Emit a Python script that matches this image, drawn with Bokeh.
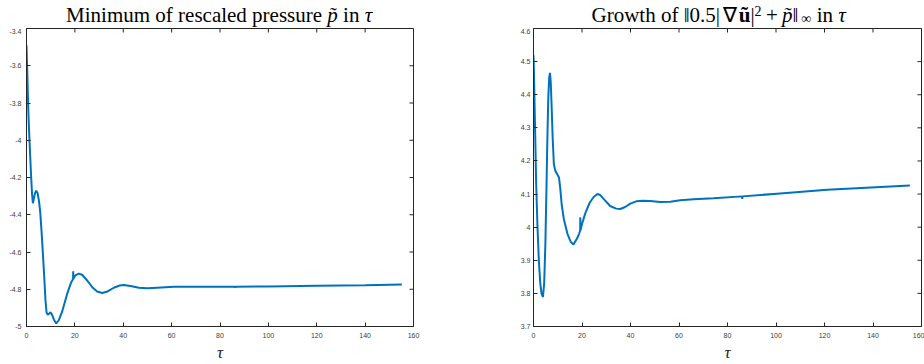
import math
from bokeh.plotting import figure
from bokeh.models import FixedTicker, Range1d
from bokeh.layouts import row, column
from bokeh.embed import file_html
from bokeh.resources import INLINE
from bokeh.core.properties import value

# ---------------- data ----------------
tau_p = [0.0, 0.3, 0.7, 1.0, 1.4, 1.93, 2.3, 2.65, 3.1, 3.5, 4.0, 4.6, 5.2, 5.7,
         6.2, 6.6, 7.0, 7.4, 7.85, 8.3, 8.8, 9.4, 9.9, 10.5, 11.4, 12.3, 13.4,
         14.7, 16.8, 18.5, 19.25, 19.3, 19.35, 20.2, 21.6, 23.0, 25.1, 27.2,
         29.2, 31.3, 33.5, 36.1, 38.5, 40.2, 43.0, 46.5, 49.9, 54.0, 60.9, 72.0,
         86.2, 86.3, 86.4, 100.0, 120.0, 140.0, 155.2]
p_min = [-3.49, -3.62, -3.82, -3.93, -4.05, -4.20, -4.29, -4.338, -4.31, -4.285,
         -4.271, -4.285, -4.33, -4.39, -4.485, -4.57, -4.66, -4.75, -4.86, -4.925,
         -4.937, -4.93, -4.924, -4.935, -4.965, -4.984, -4.965, -4.922, -4.825,
         -4.762, -4.745, -4.703, -4.745, -4.725, -4.716, -4.722, -4.753, -4.789,
         -4.812, -4.82, -4.812, -4.792, -4.78, -4.777, -4.783, -4.792, -4.795,
         -4.792, -4.787, -4.786, -4.786, -4.792, -4.786, -4.785, -4.781, -4.778,
         -4.775]

tau_g = [0.0, 0.28, 0.69, 1.1, 1.65, 2.2, 2.75, 3.3, 3.9, 4.4, 4.9, 5.3, 5.7,
         6.1, 6.45, 6.8, 7.1, 7.5, 7.9, 8.4, 9.0, 9.8, 10.5, 11.0, 11.6, 12.5,
         14.0, 15.4, 16.5, 17.9, 18.8, 19.25, 19.3, 19.35, 20.1, 21.3, 23.1,
         24.8, 26.4, 27.5, 29.2, 31.6, 34.1, 35.8, 37.8, 39.9, 42.4, 45.1, 48.1,
         52.3, 56.4, 60.5, 66.0, 74.3, 86.0, 86.1, 86.2, 100.4, 121.1, 155.2]
growth = [4.519, 4.434, 4.283, 4.131, 4.0, 3.90, 3.834, 3.799, 3.789, 3.83,
          3.95, 4.10, 4.26, 4.39, 4.45, 4.466, 4.44, 4.36, 4.27, 4.19, 4.17,
          4.16, 4.15, 4.12, 4.07, 4.025, 3.98, 3.955, 3.948, 3.965, 3.98, 3.99,
          4.03, 3.99, 4.012, 4.041, 4.073, 4.091, 4.10, 4.097, 4.083, 4.064,
          4.056, 4.055, 4.061, 4.071, 4.078, 4.08, 4.079, 4.076, 4.077, 4.081,
          4.084, 4.087, 4.093, 4.085, 4.093, 4.101, 4.113, 4.126]

x_ticks = [0, 20, 40, 60, 80, 100, 120, 140, 160]
x_tick_labels = ["0", "20", "40", "60", "80", "100", "120", "140", "160"]
p_ticks = [-5.0, -4.8, -4.6, -4.4, -4.2, -4.0, -3.8, -3.6, -3.4]
p_tick_labels = ["-5", "-4.8", "-4.6", "-4.4", "-4.2", "-4", "-3.8", "-3.6", "-3.4"]
g_ticks = [3.7, 3.8, 3.9, 4.0, 4.1, 4.2, 4.3, 4.4, 4.5, 4.6]
g_tick_labels = ["3.7", "3.8", "3.9", "4", "4.1", "4.2", "4.3", "4.4", "4.5", "4.6"]

# title pieces: text, style, size(px), wanted baseline (px from top), advance (em of FONT)
title_left = [("Minimum of rescaled pressure", "normal", 21, 20, 12.44),
              ("p\u0303", "italic", 21, 20, 0.75),
              ("in", "normal", 21, 20, 1.03),
              ("\u03c4", "italic", 21, 20, 0.44)]
title_right = [("Growth of", "normal", 21, 20, 4.39),
               ("\u20160.5|", "normal", 21, 20, 1.87),
               ("\u2207", "normal", 21, 20, 0.75),
               ("u\u0303", "bold", 21, 20, 0.556),
               ("|", "normal", 21, 20, 0.2),
               ("2", "normal", 14, 14, 0.54),
               ("+", "normal", 21, 20, 0.764),
               ("p\u0303", "italic", 21, 20, 0.5),
               ("\u2016", "normal", 21, 20, 0.42),
               ("\u221e", "normal", 14, 22, 0.73),
               ("in", "normal", 21, 20, 1.03),
               ("\u03c4", "italic", 21, 20, 0.44)]

LINE = "#0072BD"
AX = "#262626"
FONT = 21
TITLE_H = 28
TOTAL_H = 364
TICK = 4


def style_axis(ax, standoff):
    ax.axis_line_color = AX
    ax.axis_line_width = 1
    ax.major_tick_in = TICK
    ax.major_tick_out = 0
    ax.major_tick_line_color = AX
    ax.minor_tick_line_color = None
    ax.major_label_text_font = "Liberation Sans"
    ax.major_label_text_font_size = "7px"
    ax.major_label_text_color = "#404040"
    ax.major_label_standoff = standoff


def make_title(width, bl, br, pieces, shift):
    fw = width - bl - br
    t = figure(width=width, height=TITLE_H, x_range=Range1d(0, fw),
               y_range=Range1d(0, TITLE_H), output_backend="svg",
               toolbar_location=None, title=None,
               min_border_left=bl, min_border_right=br,
               min_border_top=0, min_border_bottom=0,
               x_axis_location=None, y_axis_location=None)
    t.grid.visible = False
    t.outline_line_color = None
    t.border_fill_color = "white"
    total = sum(w * FONT for (_, _, _, _, w) in pieces)
    off = fw / 2 - total / 2 + shift
    for (txt, style, size, base, w) in pieces:
        ypos = TITLE_H - base + 0.28 * size
        t.text(x=[off], y=[ypos], text=[txt],
               text_font=value("Liberation Serif"),
               text_font_size=value(f"{size}px"),
               text_font_style=value(style), text_color="black",
               text_align="left", text_baseline="alphabetic")
        off += w * FONT
    return t


def make_panel(tau, vals, yr, yticks, ylabels, width, bl, br, ystand):
    p = figure(width=width, height=TOTAL_H - TITLE_H, x_range=Range1d(0, 160),
               y_range=Range1d(*yr), output_backend="svg",
               toolbar_location=None, title=None,
               min_border_left=bl, min_border_right=br,
               min_border_top=0, min_border_bottom=38)
    p.grid.visible = False
    p.outline_line_color = AX
    p.outline_line_width = 1
    p.background_fill_color = "white"
    p.border_fill_color = "white"

    p.xaxis.ticker = FixedTicker(ticks=x_ticks)
    p.xaxis.major_label_overrides = dict(zip(x_ticks, x_tick_labels))
    p.yaxis.ticker = FixedTicker(ticks=yticks)
    p.yaxis.major_label_overrides = dict(zip(yticks, ylabels))
    style_axis(p.xaxis[0], 6)
    style_axis(p.yaxis[0], ystand)
    p.xaxis.axis_label = "\u03c4"
    p.xaxis.axis_label_text_font = "Liberation Serif"
    p.xaxis.axis_label_text_font_style = "italic"
    p.xaxis.axis_label_text_font_size = "17px"
    p.xaxis.axis_label_text_color = "#222222"
    p.xaxis.axis_label_standoff = 2

    # inward ticks on the top and right edges of the box (MATLAB "box on")
    p.ray(x=x_ticks, y=[yr[1]] * len(x_ticks), length=TICK,
          length_units="screen", angle=-math.pi / 2,
          line_color=AX, line_width=1)
    p.ray(x=[160] * len(yticks), y=yticks, length=TICK,
          length_units="screen", angle=math.pi,
          line_color=AX, line_width=1)

    p.line(tau, vals, line_color=LINE, line_width=2)
    return p


t1 = make_title(460, 26, 47, title_left, 0)
t2 = make_title(464, 73, 3, title_right, -8)
p1 = make_panel(tau_p, p_min, (-5.0, -3.4), p_ticks, p_tick_labels,
                460, 26, 47, 5)
p2 = make_panel(tau_g, growth, (3.7, 4.6), g_ticks, g_tick_labels,
                464, 73, 3, 3)

layout = row(column(t1, p1), column(t2, p2))
open("out.html", "w").write(file_html(layout, INLINE))
